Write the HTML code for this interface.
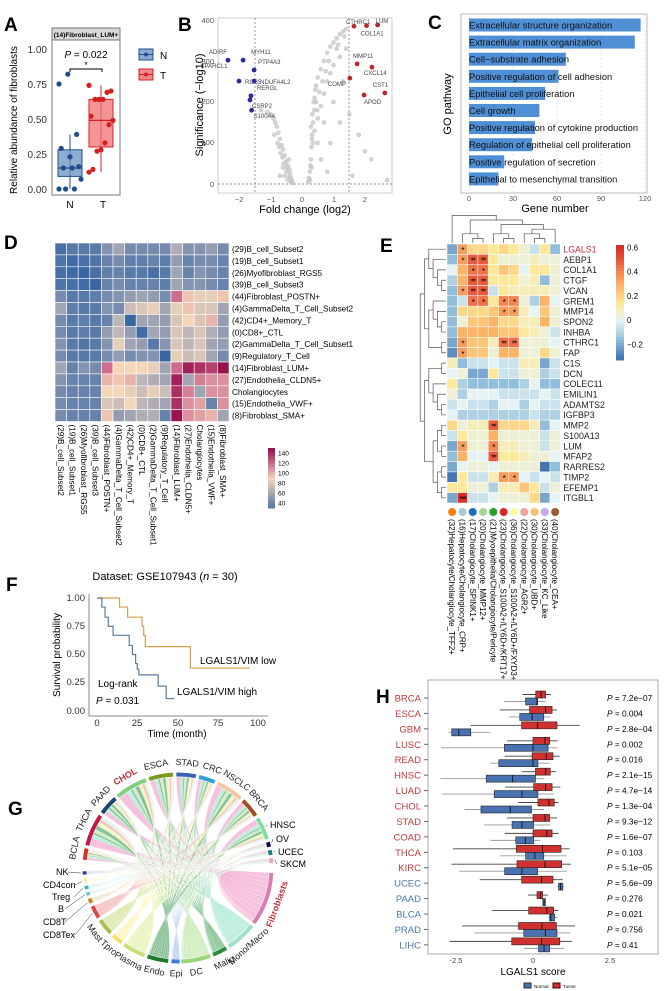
<!DOCTYPE html>
<html><head><meta charset="utf-8"><style>
html,body{margin:0;padding:0;background:#fff}
svg{display:block;font-family:"Liberation Sans",Arial,sans-serif}
</style></head><body>
<svg id="fig" width="670" height="991" viewBox="0 0 670 991" xmlns="http://www.w3.org/2000/svg">
<rect width="670" height="991" fill="#fff"/>
<g font-weight="bold" font-size="19" fill="#000">
<text x="4" y="31">A</text><text x="178" y="31">B</text><text x="428" y="29">C</text>
<text x="4" y="249">D</text><text x="380" y="252">E</text><text x="6" y="591">F</text>
<text x="8" y="815">G</text><text x="376" y="703">H</text>
</g>

<g id="pA">
<rect x="52" y="28" width="68" height="12" fill="#d9d9d9" stroke="#777"/>
<text x="86" y="37" font-size="6.5" font-weight="bold" text-anchor="middle">(14)Fibroblast_LUM+</text>
<rect x="52" y="40" width="68" height="155" fill="none" stroke="#777"/>
<g font-size="10" fill="#333" text-anchor="end">
<text x="47" y="53">1.00</text><text x="47" y="88">0.75</text><text x="47" y="123">0.50</text><text x="47" y="158">0.25</text><text x="47" y="193">0.00</text></g>
<text transform="translate(17,120) rotate(-90)" font-size="10" text-anchor="middle">Relative abundance of fibroblasts</text>
<text x="70" y="208" font-size="10" text-anchor="middle">N</text>
<text x="103" y="208" font-size="10" text-anchor="middle">T</text>
<text x="86" y="58" font-size="10" text-anchor="middle"><tspan font-style="italic">P</tspan> = 0.022</text>
<path d="M70,72 V69 H102 V72" fill="none" stroke="#000"/>
<text x="86" y="68" font-size="9" text-anchor="middle">*</text>
<g><rect x="139" y="49" width="14" height="11" fill="#8aaad0" stroke="#1f4e8c"/><line x1="139" y1="54.5" x2="153" y2="54.5" stroke="#1f4e8c"/><circle cx="146" cy="54.5" r="2" fill="#1f4e8c"/><text x="160" y="59" font-size="10">N</text></g>
<g><rect x="139" y="69" width="14" height="11" fill="#f08a8a" stroke="#d62020"/><line x1="139" y1="74.5" x2="153" y2="74.5" stroke="#d62020"/><circle cx="146" cy="74.5" r="2" fill="#d62020"/><text x="160" y="79" font-size="10">T</text></g>
</g>

<g id="pB">
<rect x="218" y="18" width="174" height="175" fill="none" stroke="#ccc"/>
<g font-size="7.5" fill="#555" text-anchor="end">
<text x="214" y="23">400</text><text x="214" y="64">300</text><text x="214" y="104">200</text><text x="214" y="145">100</text><text x="214" y="187">0</text></g>
<g font-size="7.5" fill="#555" text-anchor="middle">
<text x="239" y="202">−2</text><text x="271" y="202">−1</text><text x="302" y="202">0</text><text x="334" y="202">1</text><text x="365" y="202">2</text></g>
<text x="305" y="213" font-size="11" text-anchor="middle">Fold change (log2)</text>
<text transform="translate(203,105) rotate(-90)" font-size="11" text-anchor="middle">Significance (−log10)</text>
<line x1="255" y1="18" x2="255" y2="193" stroke="#666" stroke-dasharray="2,2" stroke-width="0.7"/>
<line x1="349" y1="18" x2="349" y2="193" stroke="#666" stroke-dasharray="2,2" stroke-width="0.7"/>
<line x1="218" y1="184" x2="392" y2="184" stroke="#666" stroke-dasharray="2,2" stroke-width="0.7"/>
<g id="volPts"></g>
</g>

<g id="pC">
<rect x="461" y="14" width="186" height="179" fill="none" stroke="#bbb"/>
<g stroke="#e3e3e3" stroke-dasharray="2,2">
<line x1="469" y1="14" x2="469" y2="193"/><line x1="513" y1="14" x2="513" y2="193"/><line x1="557" y1="14" x2="557" y2="193"/><line x1="601" y1="14" x2="601" y2="193"/><line x1="645" y1="14" x2="645" y2="193"/></g>
<g font-size="7.5" fill="#555" text-anchor="middle">
<text x="469" y="201">0</text><text x="513" y="201">30</text><text x="557" y="201">60</text><text x="601" y="201">90</text><text x="645" y="201">120</text></g>
<text x="555" y="212" font-size="11" text-anchor="middle">Gene number</text>
<text transform="translate(451,104) rotate(-90)" font-size="11" text-anchor="middle">GO pathway</text>
<g id="goBars"></g>
</g>

<g id="pD"></g>
<g id="pE"></g>

<g id="pF">
<text x="165" y="580" font-size="11" text-anchor="middle">Dataset: GSE107943 (<tspan font-style="italic">n</tspan> = 30)</text>
<line x1="89" y1="594" x2="89" y2="716" stroke="#888"/>
<line x1="89" y1="716" x2="268" y2="716" stroke="#888"/>
<g font-size="9.5" fill="#333" text-anchor="end">
<text x="85" y="601">1.00</text><text x="85" y="629">0.75</text><text x="85" y="657">0.50</text><text x="85" y="685">0.25</text><text x="85" y="714">0.00</text></g>
<g font-size="9.5" fill="#333" text-anchor="middle">
<text x="97" y="726">0</text><text x="137" y="726">25</text><text x="178" y="726">50</text><text x="218" y="726">75</text><text x="258" y="726">100</text></g>
<text x="177" y="737" font-size="10" text-anchor="middle">Time (month)</text>
<text transform="translate(60,655) rotate(-90)" font-size="10" text-anchor="middle">Survival probability</text>
<text x="200" y="664" font-size="10">LGALS1/VIM low</text>
<text x="177" y="695" font-size="10">LGALS1/VIM high</text>
<text x="98" y="687" font-size="10">Log-rank</text>
<text x="96" y="704" font-size="10"><tspan font-style="italic">P</tspan> = 0.031</text>
<g id="kmLines"></g>
</g>

<g id="pG"></g>

<g id="pH">
<rect x="428" y="680" width="230" height="274" fill="none" stroke="#aaa"/>
<g font-size="7.5" fill="#444" text-anchor="middle">
<text x="456" y="963">-2.5</text><text x="533" y="963">0</text><text x="610" y="963">2.5</text></g>
<text x="533" y="975" font-size="10" text-anchor="middle">LGALS1 score</text>
<g>
<rect x="524" y="983" width="7" height="5" fill="#4a72b0" stroke="#234"/><text x="534" y="988" font-size="4.5">Normal</text>
<rect x="553" y="983" width="7" height="5" fill="#d03030" stroke="#400"/><text x="563" y="988" font-size="4.5">Tumor</text></g>
<g id="hBoxes"></g>
</g>
</svg>

<script>
const aNvals = [0.75,0.82,0.39,0.29,0.23,0.16,0.15,0.15,0.07,0,0,0];
const aTvals = [0.74,0.70,0.69,0.64,0.64,0.64,0.52,0.49,0.46,0.33,0.28,0.27,0.14,0.12];
const aNstats = [0, 0.09, 0.15, 0.28, 0.39];
const aTstats = [0.12, 0.30, 0.49, 0.64, 0.74];

const volGrayFC = [-0.3,-0.32,-0.35,-0.38,-0.4,-0.45,-0.5,-0.55,-0.6,-0.65,-0.7,-0.75,-0.8,-0.85,-0.9,-1.0,-1.1,-1.3,-0.5,-0.6,-0.7,-0.45,-0.55,-0.42,-0.62,-0.72,-0.36,-0.48,-0.58,-0.68,-0.78,-0.88,-0.33,-0.4,
 0.2,0.25,0.28,0.3,0.32,0.35,0.38,0.4,0.45,0.5,0.6,0.7,0.8,0.9,1.0,1.1,1.2,1.3,1.4,0.35,0.4,0.5,0.6,0.7,0.8,0.9,1.0,1.2,1.4,0.3,0.5,0.7,1.0,1.3,0.25,0.6,0.9,1.2,1.5,1.8,2.2,1.6,0.8,2.0,2.7,0.33,0.37,0.42,0.55,0.65,0.75,0.28,0.31,0.48,1.1,0.22,0.27,0.45,0.85,1.15,1.35];
const volGraySig = [2,8,15,25,35,45,55,70,85,95,110,125,140,150,160,170,175,180,30,40,20,10,20,60,65,90,5,40,50,75,100,120,3,18,
 5,30,60,90,120,150,180,210,240,260,280,300,320,335,345,355,365,372,378,100,130,160,190,220,250,270,290,310,330,40,100,150,200,250,10,60,100,150,170,120,60,20,30,80,10,170,200,230,225,250,275,140,110,180,330,15,45,200,300,340,360];
const volDownNames = ["ADIRF","MYH11","PTP4A3","RGS5","NDUFA4L2","RERGL","CSRP2","S100A4","SPARCL1"];
const volDownFC = [-2.35,-1.87,-1.52,-2.0,-1.52,-1.62,-1.65,-1.6,-2.35];
const volDownSig = [302,302,278,251,251,215,205,180,302];
const volUpNames = ["CTHRC1","LUM","COL1A1","MMP11","CXCL14","COMP","CST1","APOD"];
const volUpFC = [1.65,2.4,2.05,1.75,2.22,1.52,2.63,1.97];
const volUpSig = [385,388,386,293,285,258,222,217];

const goTerms = ["Extracellular structure organization","Extracellular matrix organization","Cell\u2212substrate adhesion","Positive regulation of cell adhesion","Epithelial cell proliferation","Cell growth","Positive regulation of cytokine production","Regulation of epithelial cell proliferation","Positive regulation of secretion","Epithelial to mesenchymal transition"];
const goCounts = [117,113,66,61,52,48,45,43,24,20];

const dNames = ["(29)B_cell_Subset2","(19)B_cell_Subset1","(26)Myofibroblast_RGS5","(39)B_cell_Subset3","(44)Fibroblast_POSTN+","(4)GammaDelta_T_Cell_Subset2","(42)CD4+_Memory_T","(0)CD8+_CTL","(2)GammaDelta_T_Cell_Subset1","(9)Regulatory_T_Cell","(14)Fibroblast_LUM+","(27)Endothelia_CLDN5+","Cholangiocytes","(15)Endothelia_VWF+","(8)Fibroblast_SMA+"];
const dMatrix = [
[20,30,30,30,50,60,45,45,45,45,65,50,50,55,45],
[25,15,20,25,40,45,35,35,40,35,55,40,45,45,40],
[20,15,10,20,35,40,30,30,20,30,60,40,50,45,40],
[25,20,15,10,40,45,40,40,40,35,60,50,50,45,40],
[45,30,30,35,45,50,55,60,55,45,120,95,85,85,95],
[60,35,30,30,50,45,75,80,85,60,85,95,80,80,60],
[45,30,35,30,40,70,10,60,60,55,80,90,80,100,55],
[45,30,35,30,55,70,55,15,60,55,80,70,80,65,55],
[50,30,25,30,50,85,60,55,30,50,80,70,80,60,55],
[45,30,30,30,45,55,45,50,50,10,85,75,80,60,45],
[60,40,50,45,120,90,90,90,85,60,120,145,140,135,150],
[50,40,40,40,100,95,100,70,65,60,145,60,115,110,110],
[45,40,40,40,90,90,85,75,85,75,140,115,60,110,110],
[45,40,40,40,80,75,90,70,65,60,140,110,105,40,110],
[45,40,40,40,95,55,60,65,65,40,150,110,105,100,60]];
const dBarTicks = [140,120,100,80,60,40];

const eGenes = ["LGALS1","AEBP1","COL1A1","CTGF","VCAN","GREM1","MMP14","SPON2","INHBA","CTHRC1","FAP","C1S","DCN","COLEC11","EMILIN1","ADAMTS2","IGFBP3","MMP2","S100A13","LUM","MFAP2","RARRES2","TIMP2","EFEMP1","ITGBL1"];
const eCols = ["(32)Hepatocyte/Cholangiocyte_TFF2+","(16)Hepatocyte/Cholangiocyte_CRP+","(17)Cholangiocyte_SPINK1+","(20)Cholangiocyte_MMP12+","(21)Myoepithelia/Cholangiocyte/Pericyte","(23)Cholangiocyte_S100A2+/LY6D+/KRT17+","(36)Cholangiocyte_S100A2+/LY6D+/FXYD3+","(22)Cholangiocyte_AGR2+","(30)Cholangiocyte_UBD+","(33)Cholangiocyte_KC_Like","(40)Cholangiocyte_CEA+"];
const eDotColors = ["#f07f10","#a8c8e0","#1f70b0","#a0d890","#2aa02a","#d62728","#fff8a0","#f4a0a0","#fdbf6f","#c8a8e0","#a05a2c"];
const eMatrix = [
[-0.2,0.35,0.2,0.2,0.15,0.2,0.15,0.05,-0.05,0.15,-0.15],
[-0.15,0.35,0.5,0.5,0.15,0.05,0.05,0.05,0.1,0.05,0.05],
[0.0,0.3,0.45,0.45,0.15,0.25,0.2,0.0,0.15,0.15,0.05],
[-0.1,0.3,0.5,0.5,0.15,0.15,0.15,0.05,0.1,-0.15,0.05],
[-0.15,0.35,0.5,0.5,-0.05,0.15,0.1,0.1,0.1,0.1,0.05],
[-0.15,-0.05,0.45,0.45,0.15,0.4,0.4,0.05,-0.1,0.3,0.0],
[-0.15,0.2,0.2,0.2,0.25,0.35,0.35,0.1,0.0,0.25,0.05],
[-0.15,0.05,0.25,0.25,0.3,0.2,0.2,0.1,0.1,0.3,0.05],
[-0.15,0.3,0.3,0.3,0.3,0.25,0.25,0.15,0.1,0.05,-0.05],
[-0.2,0.35,0.25,0.25,0.1,0.45,0.45,0.05,0.05,0.05,0.0],
[-0.25,0.35,0.25,0.25,0.05,0.3,0.3,0.05,0.05,0.2,0.05],
[0.1,-0.15,-0.05,-0.05,0.0,-0.05,-0.05,0.1,0.1,-0.2,-0.05],
[0.0,0.05,-0.2,-0.2,0.15,-0.05,-0.05,0.05,0.05,-0.1,-0.05],
[0.15,-0.1,-0.15,-0.15,-0.15,-0.15,-0.15,-0.1,0.0,-0.15,-0.15],
[0.05,-0.1,0.0,0.0,0.0,-0.05,-0.05,-0.05,-0.05,0.0,-0.05],
[-0.05,0.0,-0.05,-0.05,-0.1,0.0,0.0,-0.1,0.0,-0.05,-0.05],
[0.0,-0.1,-0.1,-0.1,-0.1,-0.1,-0.1,-0.1,-0.05,-0.1,-0.1],
[0.2,0.05,0.1,0.1,0.5,0.2,0.2,0.2,0.1,-0.15,0.0],
[-0.05,0.15,0.05,0.05,0.3,0.05,0.05,0.05,0.05,-0.05,0.05],
[-0.2,0.35,0.05,0.05,0.4,0.1,0.1,0.05,0.05,-0.05,0.05],
[-0.15,0.3,0.0,0.0,0.5,0.15,0.15,0.1,0.05,0.05,0.0],
[-0.2,0.0,0.05,0.05,0.0,0.05,0.05,0.05,0.05,-0.3,-0.15],
[-0.3,0.15,-0.05,-0.05,0.1,0.35,0.35,0.0,-0.05,0.0,-0.05],
[0.15,0.15,0.05,0.05,-0.1,0.1,0.1,0.25,0.15,-0.05,0.05],
[-0.2,0.6,-0.05,-0.05,0.0,0.05,0.05,0.05,0.2,-0.2,0.0]];
const eStarRow = [0,1,1,1,2,2,3,3,4,4,4,5,5,5,5,6,6,9,9,9,10,17,19,19,20,22,22,24];
const eStarCol = [1,1,2,3,2,3,2,3,1,2,3,2,3,5,6,5,6,1,5,6,1,4,1,4,4,5,6,1];
const eStarTxt = ["*","*","**","**","*","*","**","**","*","**","**","*","*","*","*","*","*","*","**","**","*","**","*","*","**","*","*","***"];
const eBarTicks = [0.6,0.4,0.2,0,-0.2];

const kmHighT = [0,3,5,7,10,20,22,24,25,26,38,43,48];
const kmHighS = [1,0.92,0.83,0.75,0.67,0.58,0.5,0.42,0.37,0.32,0.22,0.11,0.11];
const kmLowT = [0,14,19,28,29,30,58,95];
const kmLowS = [1,0.92,0.83,0.75,0.67,0.57,0.38,0.38];

const gCancers = ["BCLA","THCA","PAAD","CHOL","ESCA","STAD","CRC","NSCLC","BRCA","HNSC","OV","UCEC","SKCM"];
const gCells = ["Fibroblasts","Mono/Macro","Malig","DC","Epi","Endo","Plasma","Tpro","Mast","CD8Tex","CD8T","B","Treg","CD4con","NK"];
const gCancerSpan = [[275,282],[284,304],[306,318],[320,340],[342,357],[359,371],[373,383],[385,402],[404,416],[418,432],[434,437],[439,442],[444,447]];
const gCellSpan = [[93,126],[128,147],[149,158],[160,178],[179,184],[186,199],[201,215],[217,224],[226,236],[238,246],[248,251],[253,255],[257,259],[261,264],[266,268]];
const gWeights = [
[3,2,1,1.5,0.3,1.5,1,0.5,0.5,0.8,0.4,0.3,0.3,0.4,0.2],
[4,2,1,1.5,0.2,2,1.2,0.5,0.6,1,0.4,0.3,0.3,0.5,0.2],
[3,1.5,1.2,1,0.3,1.5,0.8,0.4,0.5,0.6,0.3,0.2,0.2,0.3,0.2],
[5,2.5,1,1.5,0.4,2,1,0.5,0.6,1,0.4,0.3,0.3,0.4,0.2],
[3,2,1,1.5,0.3,1.5,1.2,0.5,0.5,0.8,0.3,0.3,0.3,0.4,0.2],
[3,2,1,1.5,0.3,1.5,1.2,0.5,0.5,0.8,0.4,0.3,0.3,0.4,0.2],
[2.5,1.5,0.8,1.2,0.3,1.2,1,0.4,0.4,0.6,0.3,0.2,0.2,0.3,0.2],
[4,2.5,1,2,0.4,2,1.5,0.6,0.6,1,0.4,0.3,0.3,0.5,0.3],
[3,2,0.8,1.5,0.3,1.5,1,0.5,0.5,0.8,0.3,0.3,0.3,0.4,0.2],
[4,2.5,1,1.5,0.3,1.8,1.2,0.5,0.6,1,0.4,0.3,0.3,0.4,0.2],
[1,0.5,0.3,0.4,0.1,0.4,0.3,0.1,0.1,0.2,0.1,0.1,0.1,0.1,0.1],
[1,0.5,0.3,0.4,0.1,0.4,0.3,0.1,0.1,0.2,0.1,0.1,0.1,0.1,0.1],
[1,0.5,0.3,0.4,0.1,0.4,0.3,0.1,0.1,0.2,0.1,0.1,0.1,0.1,0.1]];

const hCancers = ["BRCA","ESCA","GBM","LUSC","READ","HNSC","LUAD","CHOL","STAD","COAD","THCA","KIRC","UCEC","PAAD","BLCA","PRAD","LIHC"];
const hPvals = ["7.2e\u221207","0.004","2.8e\u221204","0.002","0.016","2.1e\u221215","4.7e\u221214","1.3e\u221204","9.3e\u221212","1.6e\u221207","0.103","5.1e\u221205","5.6e\u221209","0.276","0.021","0.756","0.41"];
const hTumorQ1 = [0.09,-0.11,-0.37,0,-0.03,0.08,0.02,0.16,0,0,-0.54,-0.52,-0.37,0.13,-0.14,-0.47,-0.69];
const hTumorMed = [0.26,0.41,0.15,0.39,0.43,0.41,0.41,0.52,0.39,0.45,0.31,0.39,0.28,0.24,0.45,0.29,0.28];
const hTumorQ3 = [0.41,0.62,0.78,0.54,0.65,0.56,0.62,0.69,0.54,0.62,0.91,0.93,0.65,0.31,0.67,0.76,0.87];
const hTumorLo = [-0.34,-1.08,-2.03,-0.84,-0.92,-0.36,-0.9,-0.47,-0.84,-0.92,-2.6,-2.65,-1.73,-0.16,-1.33,-2.3,-2.7];
const hTumorHi = [0.58,0.78,1.52,0.8,0.87,0.75,0.89,0.83,0.78,0.83,1.19,1.23,0.97,0.48,0.83,1.37,1.26];
const hNormQ1 = [-0.24,-0.43,-2.64,-0.93,-1.11,-1.52,-1.26,-1.69,-0.68,-0.56,-0.24,-0.92,0.83,0.32,0.54,-0.3,0.18];
const hNormMed = [0.13,-0.03,-2.41,0,0,-0.66,-0.36,-0.74,-0.36,-0.25,0.06,-0.36,0.89,0.36,0.58,0.4,0.36];
const hNormQ3 = [0.15,0.35,-2.02,0.49,0.16,0.08,0.16,-0.05,0.02,0.02,0.35,0.15,0.97,0.4,0.7,0.78,0.54];
const hNormLo = [-0.93,-0.79,-2.74,-2.98,-1.39,-3.0,-2.95,-2.22,-1.58,-1.39,-1.06,-2.39,0.78,0.32,0.5,-1.89,-0.3];
const hNormHi = [0.4,0.56,-1.39,0.78,0.54,0.37,0.67,0.35,0.56,0.24,1.1,1.1,1.0,0.42,0.8,1.21,1.0];

const NS = "http://www.w3.org/2000/svg";
function mk(tag, parent) { const e = document.createElementNS(NS, tag); (parent || document.getElementById('fig')).appendChild(e); return e; }
function set(e, o) { for (const k in o) e.setAttribute(k, o[k]); return e; }
function lerpColor(stops, v) {
  if (v <= stops[0][0]) return stops[0][1];
  for (let i = 1; i < stops.length; i++) {
    if (v <= stops[i][0]) {
      const t = (v - stops[i-1][0]) / (stops[i][0] - stops[i-1][0]);
      const a = stops[i-1][1], b = stops[i][1];
      const c = [1,3,5].map(j => Math.round(parseInt(a.substr(j,2),16)*(1-t) + parseInt(b.substr(j,2),16)*t));
      return "rgb(" + c.join(",") + ")";
    }
  }
  return stops[stops.length-1][1];
}

(function(){
  const g = document.getElementById('pA');
  const yA = v => 189 - v * 140;
  function box(st, cx, fill, stroke, nm) {
    const wl = mk('line', g); set(wl, {x1:cx, x2:cx, y1:yA(st[0]), y2:yA(st[4]), stroke:stroke});
    
    
    const r = mk('rect', g); set(r, {x:cx-12, width:24, y:yA(st[3]), height:yA(st[1])-yA(st[3]), fill:fill, stroke:stroke, 'fill-opacity':0.75});
    
    
    const m = mk('line', g); set(m, {x1:cx-12, x2:cx+12, y1:yA(st[2]), y2:yA(st[2]), stroke:stroke, 'stroke-width':1.3});
    
    
  }
  box(aNstats, 70, "#6a90c4", "#1f4e8c", "box-n");
  box(aTstats, 101, "#f07070", "#d62020", "box-t");
  aNvals.forEach((v,i) => { const c = mk('circle', g); set(c,{cx:70+((i*37)%11-5)*2.2, cy:yA(v), r:2.6, fill:"#1f4e8c"});
    
     });
  aTvals.forEach((v,i) => { const c = mk('circle', g); set(c,{cx:101+((i*37)%13-6)*2, cy:yA(v), r:2.6, fill:"#d62020"});
    
     });
})();

(function(){
  const g = document.getElementById('volPts');
  const xB = v => 302 + v * 31.5, yB = v => 184 - v * 0.41;
  volGrayFC.forEach((f,i) => { const c = mk('circle', g); set(c,{cx:xB(f), cy:yB(volGraySig[i]), r:2.4, fill:"#c4c4c4", 'fill-opacity':0.75});
    
     });
  const lblOffDown = [[-10,-6],[8,-6],[4,-6],[6,3],[6,3],[6,-6],[2,8],[2,8],[-14,8]];
  volDownFC.forEach((f,i) => {
    if (i < 8) { const c = mk('circle', g); set(c,{cx:xB(f), cy:yB(volDownSig[i]), r:2.4, fill:"#2a2a9a"});
      
       }
    const t = mk('text', g); set(t,{x:xB(f)+lblOffDown[i][0], y:yB(volDownSig[i])+lblOffDown[i][1], 'font-size':6, fill:"#444", 'text-anchor': i===0||i===8?'middle':'start'}); t.textContent = volDownNames[i];
    
    
  });
  const lblOffUp = [[-8,-2],[-2,-2],[-6,10],[-4,-6],[-8,8],[-22,8],[-12,-6],[0,9]];
  volUpFC.forEach((f,i) => {
    const c = mk('circle', g); set(c,{cx:xB(f), cy:yB(volUpSig[i]), r:2.4, fill:"#b8282e"});
    
    
    const t = mk('text', g); set(t,{x:xB(f)+lblOffUp[i][0], y:yB(volUpSig[i])+lblOffUp[i][1], 'font-size':6, fill:"#444"}); t.textContent = volUpNames[i];
    
    
  });
})();

(function(){
  const g = document.getElementById('goBars');
  const xC = v => 469 + v * 1.467;
  goTerms.forEach((nm,i) => {
    const y = 25 + i * 17.1;
    const r = mk('rect', g); set(r,{x:469, y:y-6.5, width:xC(goCounts[i])-469, height:13, fill:"#4f8fd6"});
    
    
    const t = mk('text', g); set(t,{x:469, y:y+3.5, 'font-size':9.3, fill:"#111"}); t.textContent = nm;
    
    
  });
})();

(function(){
  const g = document.getElementById('pD');
  const stops = [[0,"#2a5d9f"],[40,"#6783ac"],[65,"#b0adb5"],[90,"#f5d6b8"],[120,"#cf6d8f"],[150,"#99124e"]];
  const x0 = 55, y0 = 243, cw = 11.6, ch = 11.9;
  dMatrix.forEach((row,r) => row.forEach((v,c) => {
    const e = mk('rect', g); set(e,{x:x0+c*cw, y:y0+r*ch, width:cw, height:ch, fill:lerpColor(stops,v), stroke:"#fff", 'stroke-width':0.6});
    
    
  }));
  dNames.forEach((nm,i) => {
    const t = mk('text', g); set(t,{x:x0+15*cw+3, y:y0+i*ch+ch/2+3, 'font-size':8.2}); t.textContent = nm;
    
    
    const t2 = mk('text', g); set(t2,{transform:`translate(${x0+i*cw+cw/2-3},${y0+15*ch+3}) rotate(90)`, 'font-size':8.2}); t2.textContent = nm;
    
    
  });
  const by0 = 448, by1 = 508;
  for (let k = 0; k < 30; k++) {
    const v = 150 - k * (120/30);
    const e = mk('rect', g); set(e,{x:268, y:by0 + k*(by1-by0)/30, width:7, height:(by1-by0)/30+0.5, fill:lerpColor(stops,v)});
    
    
  }
  dBarTicks.forEach(v => {
    const t = mk('text', g); set(t,{x:278, y:by0 + (150-v)/120*(by1-by0)+2.5, 'font-size':6.5}); t.textContent = v;
    
    
  });
})();

(function(){
  const g = document.getElementById('pE');
  const stops = [[-0.3,"#4575b4"],[-0.15,"#91bfdb"],[0,"#e6f3f3"],[0.15,"#fee99a"],[0.3,"#fdb366"],[0.45,"#f07048"],[0.6,"#d73027"]];
  const x0 = 447, y0 = 244, cw = 10.3, ch = 10.36;
  eMatrix.forEach((row,r) => row.forEach((v,c) => {
    const e = mk('rect', g); set(e,{x:x0+c*cw, y:y0+r*ch, width:cw, height:ch, fill:lerpColor(stops,v), stroke:"#fff", 'stroke-width':0.5});
    
    
  }));
  eStarRow.forEach((r,i) => {
    const t = mk('text', g); set(t,{x:x0+eStarCol[i]*cw+cw/2, y:y0+r*ch+ch/2+4, 'font-size':8, 'text-anchor':'middle', 'letter-spacing':-1}); t.textContent = eStarTxt[i];
    
    
  });
  eGenes.forEach((nm,i) => {
    const t = mk('text', g); set(t,{x:x0+11*cw+3, y:y0+i*ch+ch/2+3.3, 'font-size':8.8, fill: i===0?"#c0303a":"#222"}); t.textContent = nm;
    
    
  });
  eCols.forEach((nm,i) => {
    const c = mk('circle', g); set(c,{cx:x0+i*cw+cw/2, cy:512, r:4, fill:eDotColors[i]});
    
    
    const t = mk('text', g); set(t,{transform:`translate(${x0+i*cw+cw/2-3},519) rotate(90)`, 'font-size':8}); t.textContent = nm;
    
    
  });
  const by0 = 245, by1 = 360;
  for (let k = 0; k < 40; k++) {
    const v = 0.62 - k*(0.95/40);
    const e = mk('rect', g); set(e,{x:616, y:by0+k*(by1-by0)/40, width:8, height:(by1-by0)/40+0.5, fill:lerpColor(stops,v)});
    
    
  }
  eBarTicks.forEach(v => {
    const t = mk('text', g); set(t,{x:627, y:by0+(0.62-v)/0.95*(by1-by0)+3, 'font-size':8}); t.textContent = v===0?"0":(v<0?"\u22120.2":v.toFixed(1));
    
    
  });
  function dendro(tree, leafPos, base, unit, vertical) {
    let d = "";
    function walk(n) {
      if (typeof n === 'number') return {p:leafPos(n), h:0};
      const a = walk(n[0]), b = walk(n[1]);
      const h = Math.max(a.h, b.h) + 1;
      const H = base - h*unit, Ha = base - a.h*unit, Hb = base - b.h*unit;
      if (vertical) d += `M${a.p},${Ha}V${H}H${b.p}V${Hb}`;
      else d += `M${Ha},${a.p}H${H}V${b.p}H${Hb}`;
      return {p:(a.p+b.p)/2, h:h};
    }
    walk(tree);
    return d;
  }
  const topTree = [0,[[1,[2,3]],[[4,[5,6]],[[7,[8,9]],10]]]];
  const p1 = mk('path', g); set(p1,{d:dendro(topTree, i=>x0+i*cw+cw/2, 243, 4.6, true), fill:"none", stroke:"#555", 'stroke-width':0.7});
  
  
  const leftTree = [[[0,[1,[2,[3,4]]]],[[5,[6,[7,8]]],[9,10]]],[[[11,12],[13,[14,[15,16]]]],[[[17,18],[19,20]],[[21,22],[23,24]]]]];
  const p2 = mk('path', g); set(p2,{d:dendro(leftTree, i=>y0+i*ch+ch/2, 446, 4.3, false), fill:"none", stroke:"#555", 'stroke-width':0.7});
  
  
})();

(function(){
  const g = document.getElementById('kmLines');
  const xF = t => 97 + t * 1.61, yF = s => 711 - s * 113;
  function step(T, S) { let d = `M${xF(T[0])},${yF(S[0])}`; for (let i=1;i<T.length;i++) d += `H${xF(T[i])}V${yF(S[i])}`; return d; }
  const a = mk('path', g); set(a,{d:step(kmLowT,kmLowS), fill:"none", stroke:"#d4a04c", 'stroke-width':1.2});
  
  
  const b = mk('path', g); set(b,{d:step(kmHighT,kmHighS), fill:"none", stroke:"#5b7c9c", 'stroke-width':1.2});
  
  
})();

(function(){
  const g = document.getElementById('pG');
  const cx = 178, cy = 868, R = 91;
  const rad = a => a*Math.PI/180;
  const pt = (a,r) => [cx + r*Math.sin(rad(a)), cy - r*Math.cos(rad(a))];
  const cancerArc = ["#d03030","#c01848","#1a4870","#80d080","#7a9a20","#4060b0","#30a0d0","#f0c8a0","#a05020","#80e0a0","#101050","#208080","#f0a0c0"];
  const cellArc = ["#d97bb0","#9ee0c8","#2e8b3e","#9bd67a","#3a7bd5","#1f7a2e","#c8e07a","#f0e070","#a8c050","#d84848","#c08a30","#70c8c0","#40b0b0","#f8f0b0","#2c3e80"];
  const cellChord = ["#f2a9cf","#a6e8d2","#4fa860","#bfe8a8","#7aa8ea","#5aa86a","#e0f0a8","#fff0a0","#d0e090","#f0a0a0","#e0b880","#b0e0dc","#a0d8d8","#fff8c8","#8090c0"];
  const rowSum = gWeights.map(r => r.reduce((a,b)=>a+b,0));
  const colSum = gCells.map((_,j) => gWeights.reduce((a,r)=>a+r[j],0));
  const srcOff = gCancers.map(()=>0), dstOff = gCells.map(()=>0);
  const chords = mk('g', g);
  gWeights.forEach((row,i) => row.forEach((w,j) => {
    const ss = gCancerSpan[i], ds = gCellSpan[j];
    const a1 = ss[0] + srcOff[i]/rowSum[i]*(ss[1]-ss[0]); srcOff[i] += w; const a2 = ss[0] + srcOff[i]/rowSum[i]*(ss[1]-ss[0]);
    const b1 = ds[0] + dstOff[j]/colSum[j]*(ds[1]-ds[0]); dstOff[j] += w; const b2 = ds[0] + dstOff[j]/colSum[j]*(ds[1]-ds[0]);
    const A1=pt(a1,R),A2=pt(a2,R),B1=pt(b1,R),B2=pt(b2,R);
    const d = `M${A1}A${R},${R} 0 0 1 ${A2}Q${cx},${cy} ${B1}A${R},${R} 0 0 1 ${B2}Q${cx},${cy} ${A1}Z`;
    const p = mk('path', chords); set(p,{d:d, fill:cellChord[j], 'fill-opacity':0.72, stroke:"#fff", 'stroke-width':0.2});
    
    
  }));
  function arc(span, col) {
    const A=pt(span[0],R+2.5), B=pt(span[1],R+2.5);
    const large = (span[1]-span[0])>180?1:0;
    const p = mk('path', g); set(p,{d:`M${A}A${R+2.5},${R+2.5} 0 ${large} 1 ${B}`, fill:"none", stroke:col, 'stroke-width':4});
    return p;
  }
  gCancerSpan.forEach((s,i) => { const p = arc(s, cancerArc[i]);
    
     });
  gCellSpan.forEach((s,i) => { const p = arc(s, cellArc[i]);
    
     });
  function tangLabel(txt, ang, r, color, bold, size) {
    const [x,y] = pt(ang, r);
    let rot = ang; if (ang > 90 && ang < 270) rot = ang - 180;
    const t = mk('text', g); set(t,{x:x, y:y, transform:`rotate(${rot},${x},${y})`, 'text-anchor':'middle', 'dominant-baseline':'middle', 'font-size':size||9, fill:color||"#222", 'font-weight':bold?'bold':'normal'});
    t.textContent = txt;
    return t;
  }
  const cancerLabelAng = [281,297,313,330,348,5,19,34,50];
  for (let i=0;i<9;i++) {
    const t = tangLabel(gCancers[i], cancerLabelAng[i], R+14, i===3?"#c0303a":"#222", i===3);
    
    
  }
  const sideR = [["HNSC",65,[270,828]],["OV",75,[276,842]],["UCEC",80,[278,855]],["SKCM",85,[280,867]]];
  sideR.forEach(s => {
    const [x,y] = pt(s[1], R+6);
    const l = mk('path', g); set(l,{d:`M${x},${y}L${s[2][0]-3},${s[2][1]-3}`, stroke:"#333", 'stroke-width':0.5, fill:"none"});
    
    
    const t = mk('text', g); set(t,{x:s[2][0], y:s[2][1], 'font-size':9}); t.textContent = s[0];
    
    
  });
  const sideL = [["NK",267,[56,875]],["CD4con",262,[43,888]],["Treg",258,[52,900]],["B",254,[58,912]],["CD8T",249,[43,925]],["CD8Tex",242,[43,938]]];
  sideL.forEach(s => {
    const [x,y] = pt(s[1], R+6);
    const l = mk('path', g); set(l,{d:`M${x},${y}L${s[2][0]+s[0].length*5+2},${s[2][1]-3}`, stroke:"#333", 'stroke-width':0.5, fill:"none"});
    
    
    const t = mk('text', g); set(t,{x:s[2][0], y:s[2][1], 'font-size':9});
    t.textContent = s[0];
    
    
  });
  const bottom = [["Fibroblasts",110,"#c0303a",true],["Mono/Macro",138],["Malig",154],["DC",170],["Epi",181],["Endo",193],["Plasma",208],["Tpro",221],["Mast",232]];
  bottom.forEach(b => {
    const t = tangLabel(b[0], b[1], R+15, b[2], b[3]);
    
    
  });
})();

(function(){
  const g = document.getElementById('hBoxes');
  const xH = v => 533 + v * 30.8;
  hCancers.forEach((nm,i) => {
    const y = 698 + i * 15.43;
    const lab = mk('text', g); set(lab,{x:421, y:y+3.5, 'font-size':9.5, 'text-anchor':'end', fill: i<12?"#c03a3a":"#4a78b0"}); lab.textContent = nm;
    
    
    const tk = mk('line', g); set(tk,{x1:424, x2:428, y1:y, y2:y, stroke:"#666"});
    
    
    const pv = mk('text', g); set(pv,{x:607, y:y+3, 'font-size':8.3});
    pv.innerHTML = '<tspan font-style="italic">P</tspan> = ' + hPvals[i];
    
    
    function bx(q1,med,q3,lo,hi,yc,fill,wcol,nm2) {
      const w = mk('line', g); set(w,{x1:xH(lo), x2:xH(hi), y1:yc, y2:yc, stroke:wcol, 'stroke-width':0.9});
      
      
      const r = mk('rect', g); set(r,{x:xH(q1), y:yc-3.5, width:Math.max(1.5,xH(q3)-xH(q1)), height:7, fill:fill, stroke:"#222", 'stroke-width':0.6});
      
      
      const m = mk('line', g); set(m,{x1:xH(med), x2:xH(med), y1:yc-3.5, y2:yc+3.5, stroke:"#111", 'stroke-width':0.9});
      
      
    }
    bx(hNormQ1[i],hNormMed[i],hNormQ3[i],hNormLo[i],hNormHi[i],y+3.5,"#4a72b0","#999","normal");
    bx(hTumorQ1[i],hTumorMed[i],hTumorQ3[i],hTumorLo[i],hTumorHi[i],y-3.5,"#d03030","#444","tumor");
  });
})();
</script>
</body></html>
